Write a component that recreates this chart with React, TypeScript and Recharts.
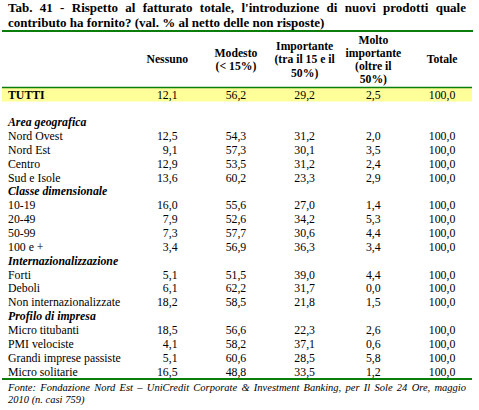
import { ComposedChart, XAxis, YAxis, Scatter, ReferenceArea } from 'recharts';

const FONT = '"Liberation Serif", "Times New Roman", serif';
const GREEN = '#0a7d0a';
const YELLOW = '#ffff99';

// rows of the table, top to bottom (" " is the empty line under TUTTI)
const rowLabels = [
  'TUTTI', ' ',
  'Area geografica', 'Nord Ovest', 'Nord Est', 'Centro', 'Sud e Isole',
  'Classe dimensionale', '10-19', '20-49', '50-99', '100 e +',
  'Internazionalizzazione', 'Forti', 'Deboli', 'Non internazionalizzate',
  'Profilo di impresa', 'Micro titubanti', 'PMI velociste', 'Grandi imprese passiste', 'Micro solitarie',
];
const groupRows = ['Area geografica', 'Classe dimensionale', 'Internazionalizzazione', 'Profilo di impresa'];
const totalRow = 'TUTTI';

const columnHeaders = [
  ['Nessuno'],
  ['Modesto', '(< 15%)'],
  ['Importante', '(tra il 15 e il', '50%)'],
  ['Molto', 'importante', '(oltre il', '50%)'],
  ['Totale'],
];

const nessuno = [12.1, null, null, 12.5, 9.1, 12.9, 13.6, null, 16.0, 7.9, 7.3, 3.4, null, 5.1, 6.1, 18.2, null, 18.5, 4.1, 5.1, 16.5];
const modesto = [56.2, null, null, 54.3, 57.3, 53.5, 60.2, null, 55.6, 52.6, 57.7, 56.9, null, 51.5, 62.2, 58.5, null, 56.6, 58.2, 60.6, 48.8];
const importante = [29.2, null, null, 31.2, 30.1, 31.2, 23.3, null, 27.0, 34.2, 30.6, 36.3, null, 39.0, 31.7, 21.8, null, 22.3, 37.1, 28.5, 33.5];
const moltoImportante = [2.5, null, null, 2.0, 3.5, 2.4, 2.9, null, 1.4, 5.3, 4.4, 3.4, null, 4.4, 0.0, 1.5, null, 2.6, 0.6, 5.8, 1.2];
const totale = [100.0, null, null, 100.0, 100.0, 100.0, 100.0, null, 100.0, 100.0, 100.0, 100.0, null, 100.0, 100.0, 100.0, null, 100.0, 100.0, 100.0, 100.0];

const columns = [nessuno, modesto, importante, moltoImportante, totale];

const FS = 11.8;
const fmt = (v: number) => v.toFixed(1).replace('.', ',');

// one scatter per column, one point per row
const cellData = columns.map((vals, col) => rowLabels.map((row, i) => ({ row, col, v: vals[i] })));

// numbers are right aligned, the column block centred under its header
const halfWidths = columns.map((vals) => {
  const len = Math.max(...vals.filter((v) => v != null).map((v) => fmt(v as number).length));
  return ((len - 1) * 0.5 + 0.25) * FS / 2;
});

function RowTick({ x, y, payload }: any) {
  // recharts repeats the category ticks once per scatter; draw the first set only
  if (payload.index >= rowLabels.length) return <g />;
  const label = String(payload.value);
  const isGroup = groupRows.includes(label);
  const isTotal = label === totalRow;
  return (
    <text
      x={x} y={y} dy="0.34em" textAnchor="start" fontFamily={FONT} fontSize={FS} fill="#000"
      fontWeight={isGroup || isTotal ? 'bold' : 'normal'} fontStyle={isGroup ? 'italic' : 'normal'}
    >
      {label.trim()}
    </text>
  );
}

function HeaderTick({ x, y, payload }: any) {
  const lines = columnHeaders[payload.value] ?? [];
  const mid = y - 28;
  return (
    <text textAnchor="middle" fontFamily={FONT} fontSize={11.7} fontWeight="bold" fill="#000">
      {lines.map((l, k) => (
        <tspan key={k} x={x} y={mid + (k - (lines.length - 1) / 2) * 13.2} dy="0.32em">{l}</tspan>
      ))}
    </text>
  );
}

const makeCell = (half: number) => (props: any) => {
  const { cx, cy, payload } = props;
  if (payload.v == null) return <g />;
  return (
    <text x={cx + half} y={cy} dy="0.34em" textAnchor="end" fontFamily={FONT} fontSize={FS} fill="#000">
      {fmt(payload.v)}
    </text>
  );
};

export default function App() {
  return (
    <div style={{ position: 'absolute', left: 0, top: 0, width: 479, height: 410, background: '#fff', fontFamily: FONT, color: '#000' }}>
      <ComposedChart width={479} height={410} layout="vertical" margin={{ top: 27.6, right: 7, bottom: 31.55, left: 2 }}>
        <XAxis
          type="number" dataKey="col" orientation="top" domain={[-2.406, 4.436]} ticks={[0, 1, 2, 3, 4]}
          height={60} interval={0} tickLine={false} tickSize={0} tickMargin={0}
          axisLine={{ stroke: GREEN, strokeWidth: 1.5 }} tick={<HeaderTick />}
        />
        <YAxis
          type="category" scale="band" dataKey="row" allowDuplicatedCategory={false} mirror width={150} interval={0}
          tickLine={false} axisLine={false} tickSize={0} tickMargin={6} tick={<RowTick />}
        />
        <ReferenceArea y1={totalRow} y2={totalRow} fill={YELLOW} fillOpacity={1} stroke="none" />
        {cellData.map((d, i) => (
          <Scatter key={i} data={d} shape={makeCell(halfWidths[i])} isAnimationActive={false} />
        ))}
      </ComposedChart>

      <div style={{ position: 'absolute', left: 8, top: 0, width: 458, fontSize: 13, fontWeight: 'bold', lineHeight: '15px' }}>
        <div style={{ textAlign: 'justify', textAlignLast: 'justify' }}>
          Tab. 41 - Rispetto al fatturato totale, l'introduzione di nuovi prodotti quale
        </div>
        <div>contributo ha fornito? (val. % al netto delle non risposte)</div>
      </div>
      <div style={{ position: 'absolute', left: 2, top: 30, width: 471, height: 2, background: GREEN }} />
      <div style={{ position: 'absolute', left: 2, top: 378, width: 470, height: 1.5, background: GREEN }} />
      <div style={{ position: 'absolute', left: 8, top: 381.5, width: 458, fontSize: 10.5, fontStyle: 'italic', lineHeight: '12px' }}>
        <div style={{ textAlign: 'justify', textAlignLast: 'justify' }}>
          Fonte: Fondazione Nord Est – UniCredit Corporate &amp; Investment Banking, per Il Sole 24 Ore, maggio
        </div>
        <div>2010 (n. casi 759)</div>
      </div>
    </div>
  );
}
